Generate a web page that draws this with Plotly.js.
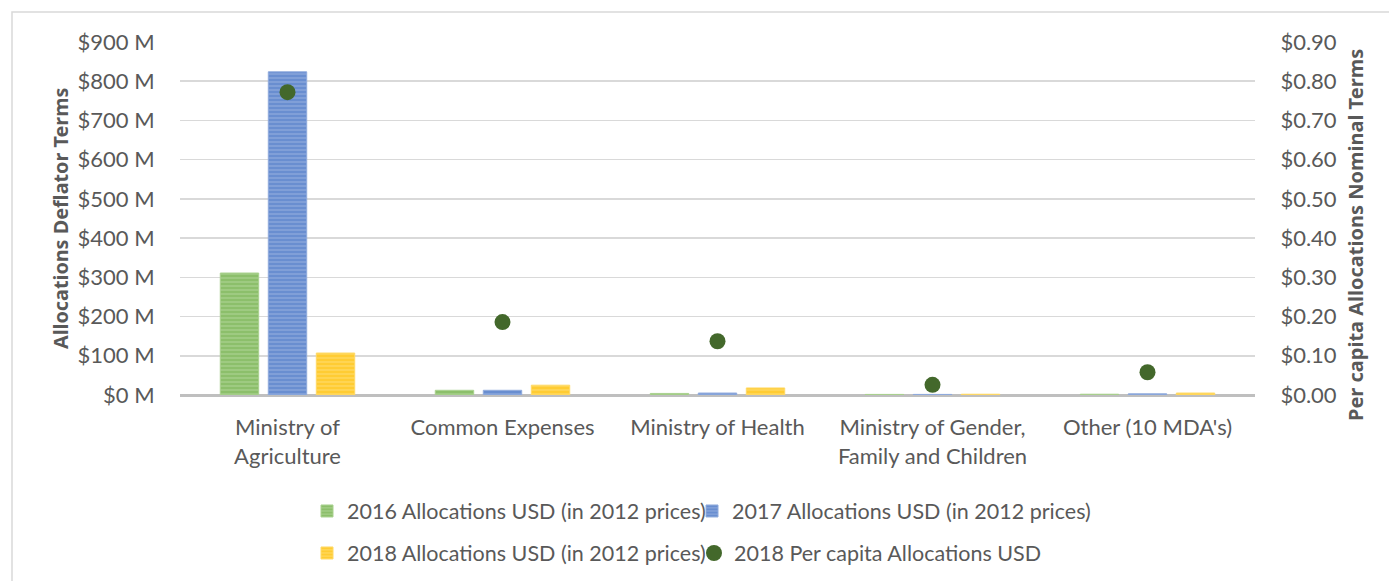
<!DOCTYPE html>
<html>
<head>
<meta charset="utf-8">
<script src="https://cdn.plot.ly/plotly-3.0.1.min.js"></script>
<style>html,body{margin:0;padding:0;background:#fff;}#chart{width:1389px;height:581px;}</style>
</head>
<body>
<div id="chart"></div>
<script>
var categories = ["Ministry of<br>Agriculture", "Common Expenses", "Ministry of Health", "Ministry of Gender,<br>Family and Children", "Other (10 MDA's)"];
var alloc2016 = [311, 12, 4, 1.5, 2];
var alloc2017 = [824, 12, 5, 1.5, 3];
var alloc2018 = [107, 25, 18, 2, 5];
var perCapita2018 = [0.772, 0.186, 0.137, 0.026, 0.058];
var leftTicks = [0, 100, 200, 300, 400, 500, 600, 700, 800, 900];
var rightTicks = [0, 0.1, 0.2, 0.3, 0.4, 0.5, 0.6, 0.7, 0.8, 0.9];
var leftTitle = "Allocations Deflator Terms";
var rightTitle = "Per capita Allocations Nominal Terms";

var FONT = "Lato, 'Noto Sans', sans-serif";
var TXT = "#595959";
var FS = 22;

function barTrace(name, vals, main, light, leg) {
  return {
    type: "bar", name: name, x: categories, y: vals, legend: leg,
    marker: {
      color: light,
      line: {color: light, width: 1},
      pattern: {shape: "-", fgcolor: main, size: 4, solidity: 0.7, fillmode: "overlay"}
    },
    hoverinfo: "skip"
  };
}

var traces = [
  barTrace("2016 Allocations USD (in 2012 prices)", alloc2016, "#70AD47", "#A9D18E", "legend"),
  barTrace("2017 Allocations USD (in 2012 prices)", alloc2017, "#4472C4", "#8FAADC", "legend2"),
  barTrace("2018 Allocations USD (in 2012 prices)", alloc2018, "#FFC000", "#FFD966", "legend3"),
  {
    type: "scatter", mode: "markers", name: "2018 Per capita Allocations USD",
    x: categories, y: perCapita2018, yaxis: "y2", legend: "legend4",
    marker: {color: "#43682B", size: 16},
    hoverinfo: "skip"
  }
];

var L = 180, R = 134, T = 42, B = 186, W = 1389, H = 581;
var pw = W - L - R, ph = H - T - B;
function px2x(p) { return (p - L) / pw; }
function py2y(p) { return (T + ph - p) / ph; }

function leg(xpx, ypx) {
  return {
    orientation: "h", xref: "container", yref: "container",
    x: xpx / W, xanchor: "left", y: 1 - ypx / H, yanchor: "middle",
    font: {size: 21.5, color: TXT}, bgcolor: "rgba(0,0,0,0)", itemwidth: 30
  };
}

var layout = {
  width: W, height: H,
  margin: {l: L, r: R, t: T, b: B},
  paper_bgcolor: "#fff", plot_bgcolor: "#fff",
  font: {family: FONT, size: FS, color: TXT},
  barmode: "group", bargap: 0.33, bargroupgap: 0.2,
  showlegend: true,
  xaxis: {
    type: "category", showgrid: false, zeroline: false, showline: false,
    ticks: "outside", ticklen: 13, tickcolor: "rgba(0,0,0,0)",
    tickfont: {size: FS, color: TXT}, automargin: false
  },
  yaxis: {
    range: [0, 900], tickvals: leftTicks,
    ticktext: leftTicks.map(function(v){ return "$" + v + " M"; }),
    showgrid: true, gridcolor: "#D9D9D9", gridwidth: 1.5,
    zeroline: true, zerolinecolor: "#BFBFBF", zerolinewidth: 3,
    ticks: "outside", ticklen: 20, tickcolor: "rgba(0,0,0,0)",
    tickfont: {size: FS, color: TXT},
    automargin: false
  },
  yaxis2: {
    overlaying: "y", side: "right",
    range: [0, 0.9], tickvals: rightTicks,
    ticktext: rightTicks.map(function(v){ return "$" + v.toFixed(2); }),
    showgrid: false, zeroline: false,
    ticks: "outside", ticklen: 20, tickcolor: "rgba(0,0,0,0)",
    tickfont: {size: FS, color: TXT},
    automargin: false
  },
  legend: leg(307, 511),
  legend2: leg(692, 511),
  legend3: leg(307, 553),
  legend4: leg(694, 553),
  annotations: [
    {text: "<b>" + leftTitle + "</b>", xref: "paper", yref: "paper", x: px2x(60), y: py2y(219),
     xanchor: "center", yanchor: "middle", textangle: -90, showarrow: false,
     font: {family: "'Noto Sans', sans-serif", size: 19.8, color: TXT}},
    {text: "<b>" + rightTitle + "</b>", xref: "paper", yref: "paper", x: px2x(1355), y: py2y(235),
     xanchor: "center", yanchor: "middle", textangle: -90, showarrow: false,
     font: {family: "'Noto Sans', sans-serif", size: 20, color: TXT}}
  ],
  shapes: [{
    type: "rect", xref: "paper", yref: "paper",
    x0: px2x(12), x1: px2x(1400), y0: py2y(600), y1: py2y(12),
    line: {color: "#D9D9D9", width: 1.5}, fillcolor: "rgba(0,0,0,0)", layer: "below"
  }]
};

Plotly.newPlot("chart", traces, layout, {staticPlot: true, displayModeBar: false});
</script>
</body>
</html>
